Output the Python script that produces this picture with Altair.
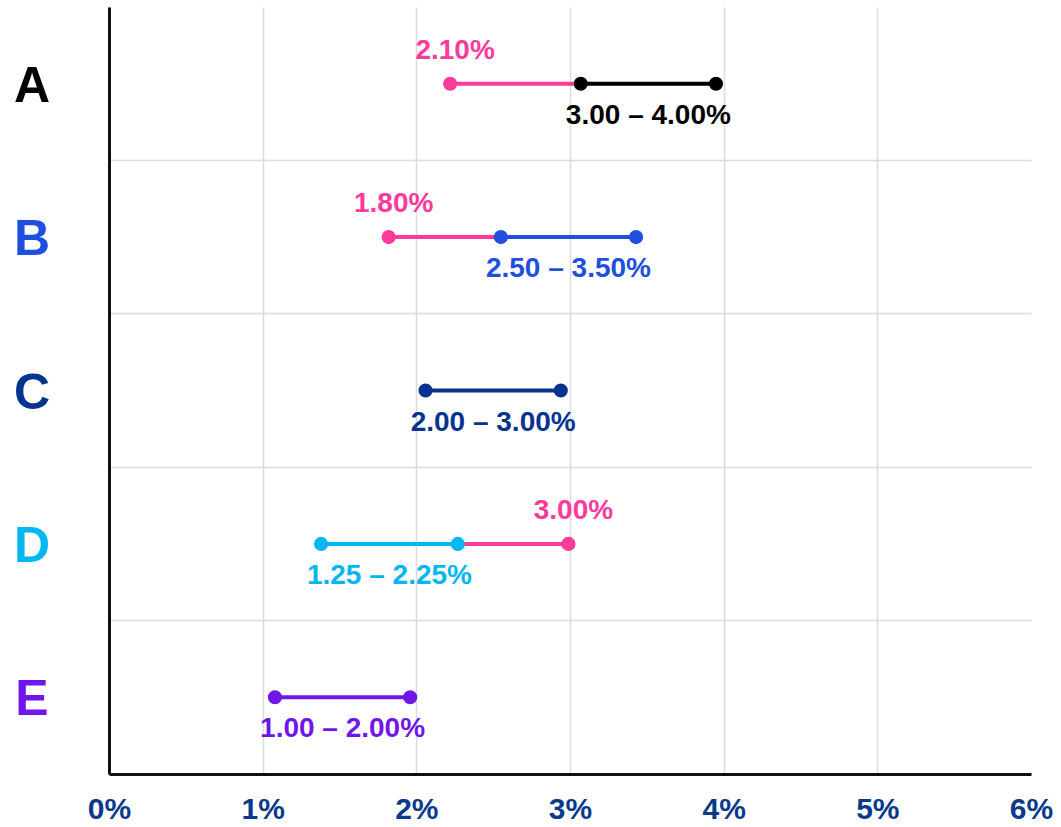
import altair as alt
import pandas as pd

# ---- data ----
categories = ["A", "B", "C", "D", "E"]
category_colors = ["#000000", "#1f4fe0", "#05338f", "#00b7f1", "#6f17e8"]

range_low = [3.07, 2.55, 2.06, 1.38, 1.08]
range_high = [3.95, 3.43, 2.94, 2.27, 1.96]
range_labels = ["3.00 – 4.00%", "2.50 – 3.50%", "2.00 – 3.00%", "1.25 – 2.25%", "1.00 – 2.00%"]

pink_cats = ["A", "B", "D"]
pink_pos = [2.22, 1.82, 2.99]
pink_end = [3.07, 2.55, 2.27]
pink_labels = ["2.10%", "1.80%", "3.00%"]

x_ticks = [0, 1, 2, 3, 4, 5, 6]

PINK = "#ff3a9b"
NAVY = "#0a3a8c"
FONT = "Liberation Sans"

ranges = pd.DataFrame({"cat": categories, "low": range_low, "high": range_high,
                       "label": range_labels, "color": category_colors})
pinks = pd.DataFrame({"cat": pink_cats, "pos": pink_pos, "end": pink_end, "label": pink_labels})
cats = pd.DataFrame({"cat": categories, "color": category_colors})

y_enc = alt.Y("cat:N",
              scale=alt.Scale(domain=categories, paddingInner=0, paddingOuter=0),
              axis=alt.Axis(title=None, labels=False, ticks=False, domainColor="#111111",
                            domainWidth=3, grid=True, gridColor="#dcdcdc", gridWidth=1.5,
                            bandPosition=1))
x_scale = alt.Scale(domain=[0, 6], nice=False)
x_axis = alt.Axis(title=None, values=x_ticks, labelExpr="datum.value + '%'", ticks=False,
                  domainColor="#111111", domainWidth=3, grid=True, gridColor="#dcdcdc",
                  gridWidth=1.5,
                  gridOpacity={"condition": {"test": "datum.value == 6", "value": 0}, "value": 1},
                  labelFont=FONT, labelFontWeight="bold", labelFontSize=30,
                  labelColor=NAVY, labelPadding=20, labelFlush=False, labelOverlap=False)

pink_lines = alt.Chart(pinks).mark_rule(color=PINK, strokeWidth=4).encode(
    x=alt.X("pos:Q", scale=x_scale, axis=x_axis), x2="end:Q", y=y_enc)

range_lines = alt.Chart(ranges).mark_rule(strokeWidth=4).encode(
    x=alt.X("low:Q", scale=x_scale, axis=x_axis), x2="high:Q", y=y_enc,
    color=alt.Color("color:N", scale=None))

range_dots = alt.Chart(ranges).transform_fold(["low", "high"], as_=["end", "val"]).mark_circle(
    size=200, opacity=1).encode(
    x=alt.X("val:Q", scale=x_scale, axis=x_axis), y=y_enc,
    color=alt.Color("color:N", scale=None))

pink_dots = alt.Chart(pinks).mark_circle(size=200, opacity=1, color=PINK).encode(
    x=alt.X("pos:Q", scale=x_scale, axis=x_axis), y=y_enc)

range_text = alt.Chart(ranges).transform_calculate(mid="(datum.low + datum.high) / 2").mark_text(
    font=FONT, fontWeight="bold", fontSize=28, dy=32, baseline="middle", align="center").encode(
    x=alt.X("mid:Q", scale=x_scale, axis=x_axis), y=y_enc, text="label:N",
    color=alt.Color("color:N", scale=None))

pink_text = alt.Chart(pinks).mark_text(
    font=FONT, fontWeight="bold", fontSize=28, dy=-33, dx=5, baseline="middle",
    align="center", color=PINK).encode(
    x=alt.X("pos:Q", scale=x_scale, axis=x_axis), y=y_enc, text="label:N")

cat_text = alt.Chart(cats).mark_text(
    font=FONT, fontWeight="bold", fontSize=50, baseline="middle", align="center", dy=3).encode(
    x=alt.value(-77), y=y_enc, text="cat:N", color=alt.Color("color:N", scale=None))

chart = alt.layer(pink_lines, range_lines, range_dots, pink_dots, range_text, pink_text, cat_text).properties(
    width=922, height=767,
    padding={"left": 109, "top": 7, "right": 30, "bottom": 53},
    autosize=alt.AutoSizeParams(type="none"),
    background="white",
).configure_view(stroke=None)

chart.save("out.html", embed_options={"renderer": "svg", "actions": False})
